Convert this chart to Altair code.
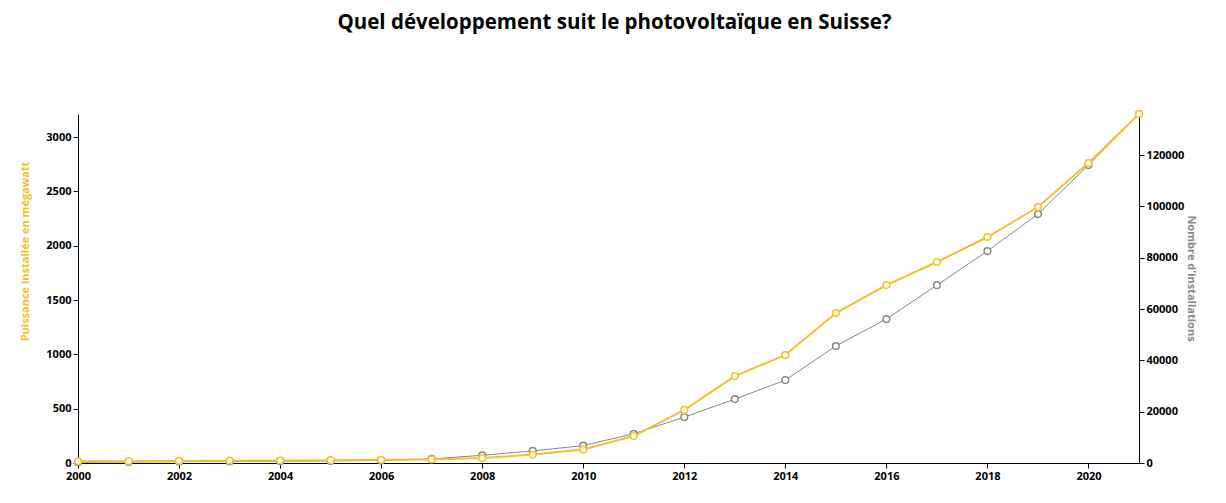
import altair as alt
import pandas as pd

years = list(range(2000, 2022))
puissance_mw = [15, 17, 19, 21, 23, 26, 29, 33, 45, 78, 124, 248, 488, 800, 994, 1380,
                1638, 1850, 2080, 2356, 2760, 3212]
installations = [300, 400, 500, 600, 700, 800, 1000, 1600, 3000, 4700, 6800, 11400, 17900,
                 24900, 32300, 45600, 56100, 69300, 82600, 97000, 116100, 136000]
x_ticks = list(range(2000, 2021, 2))

df = pd.DataFrame({"annee": years, "mw": puissance_mw, "inst": installations})

YELLOW = "#f2c12e"
GREY = "#888888"
FONT = "Open Sans"

x_enc = alt.X("annee:Q", scale=alt.Scale(domain=[2000, 2021], nice=False, zero=False),
              axis=alt.Axis(values=x_ticks, format="d", title=None, grid=False,
                            labelFontWeight="bold", labelColor="black", labelFontSize=11,
                            domainColor="black", tickColor="black", labelFlush=False))

grey_axis = alt.Axis(orient="right", title="Nombre d'installations", titleColor=GREY,
                     titleAngle=90, titleFontSize=11, titleFontWeight="bold",
                     titleX=46, titleY=164, grid=False, format="d",
                     values=[0, 20000, 40000, 60000, 80000, 100000, 120000],
                     labelFontWeight="bold", labelColor="black", labelFontSize=11,
                     domainColor="black", tickColor="black")
yellow_axis = alt.Axis(orient="left", title="Puissance installée en mégawatt", titleColor=YELLOW,
                       titleAngle=-90, titleFontSize=11, titleFontWeight="bold",
                       titleX=-48, titleY=137, grid=False, format="d",
                       values=[0, 500, 1000, 1500, 2000, 2500, 3000],
                       labelFontWeight="bold", labelColor="black", labelFontSize=11,
                       domainColor="black", tickColor="black")

grey_base = alt.Chart(df).encode(
    x=x_enc,
    y=alt.Y("inst:Q", scale=alt.Scale(domain=[0, max(installations)], nice=False), axis=grey_axis))
grey_layer = alt.layer(
    grey_base.mark_line(color=GREY, strokeWidth=1),
    grey_base.mark_point(shape="circle", filled=True, fill="white", stroke=GREY,
                         strokeWidth=1.5, size=45, opacity=1),
)

yellow_base = alt.Chart(df).encode(
    x=x_enc,
    y=alt.Y("mw:Q", scale=alt.Scale(domain=[0, max(puissance_mw)], nice=False), axis=yellow_axis))
yellow_layer = alt.layer(
    yellow_base.mark_line(color=YELLOW, strokeWidth=2),
    yellow_base.mark_point(shape="circle", filled=True, fill="#fffbe8", stroke=YELLOW,
                           strokeWidth=1.5, size=45, opacity=1),
)

chart = alt.layer(grey_layer, yellow_layer).resolve_scale(y="independent").properties(
    width=1061, height=349,
    padding={"left": 10, "top": 5, "right": 5, "bottom": 5},
    title=alt.TitleParams("Quel développement suit le photovoltaïque en Suisse?",
                          fontSize=20.5, font=FONT, fontWeight="bold", color="black",
                          anchor="middle", offset=74, dx=6)
).configure(font=FONT).configure_view(stroke=None)

chart.save("out.html", embed_options={"renderer": "svg", "actions": False})
